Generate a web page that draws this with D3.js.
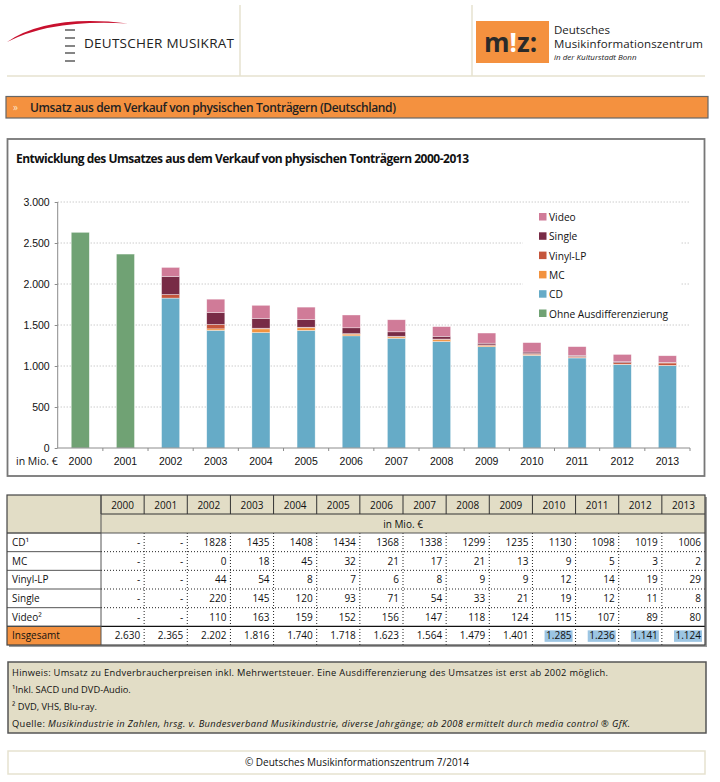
<!DOCTYPE html>
<html lang="de">
    <head>
        <meta charset="UTF-8" />
        <title>Umsatz physische Tonträger</title>
        <script src="https://cdnjs.cloudflare.com/ajax/libs/d3/7.9.0/d3.min.js"></script>
        <style>
            body {
                margin: 0;
                background: #fff;
            }
            svg {
                font-family: "Open Sans", "Noto Sans", sans-serif;
            }
            .grid line {
                stroke: #b5b5b5;
                stroke-dasharray: 1, 2;
            }
            .axis path,
            .axis line {
                stroke: #8c8c8c;
            }
            .axis text {
                font-size: 10.5px;
                fill: #111;
            }
            .cell {
                font-size: 10px;
                fill: #111;
            }
        </style>
    </head>
    <body>
        <svg width="720" height="782"></svg>
        <script>
            // Werte aus der Tabelle (in Mio. €)
            const years = ["2000", "2001", "2002", "2003", "2004", "2005", "2006", "2007", "2008", "2009", "2010", "2011", "2012", "2013"];
            const ohne = [2630, 2365, null, null, null, null, null, null, null, null, null, null, null, null];
            const cd = [null, null, 1828, 1435, 1408, 1434, 1368, 1338, 1299, 1235, 1130, 1098, 1019, 1006];
            const mc = [null, null, 0, 18, 45, 32, 21, 17, 21, 13, 9, 5, 3, 2];
            const vinyl = [null, null, 44, 54, 8, 7, 6, 8, 9, 9, 12, 14, 19, 29];
            const single = [null, null, 220, 145, 120, 93, 71, 54, 33, 21, 19, 12, 11, 8];
            const video = [null, null, 110, 163, 159, 152, 156, 147, 118, 124, 115, 107, 89, 80];
            const total = [2630, 2365, 2202, 1816, 1740, 1718, 1623, 1564, 1479, 1401, 1285, 1236, 1141, 1124];
            const yTicks = [0, 500, 1000, 1500, 2000, 2500, 3000];

            const series = [
                { key: "ohne", name: "Ohne Ausdifferenzierung", values: ohne, color: "#70a274" },
                { key: "cd", name: "CD", values: cd, color: "#66abc7" },
                { key: "mc", name: "MC", values: mc, color: "#f2923e" },
                { key: "vinyl", name: "Vinyl-LP", values: vinyl, color: "#c5553b" },
                { key: "single", name: "Single", values: single, color: "#782b46" },
                { key: "video", name: "Video", values: video, color: "#d07b98" },
            ];
            const tableRows = [
                { label: "CD¹", values: cd },
                { label: "MC", values: mc },
                { label: "Vinyl-LP", values: vinyl },
                { label: "Single", values: single },
                { label: "Video²", values: video },
            ];

            const beige = "#e2ddc6";
            const orange = "#f4913f";
            const de = d3.formatLocale({ decimal: ",", thousands: ".", grouping: [3], currency: ["", " €"] });
            const fmt = de.format(",d");

            const svg = d3.select("svg");

            // ---------- Kopfbereich ----------
            const head = svg.append("g");
            head.append("line").attr("x1", 7).attr("x2", 705).attr("y1", 76).attr("y2", 76).attr("stroke", "#e6e2cf").attr("stroke-width", 1.5);
            [240, 472].forEach((x) => head.append("line").attr("x1", x).attr("x2", x).attr("y1", 5).attr("y2", 76).attr("stroke", "#e6e2cf").attr("stroke-width", 1.5));

            // Musikrat-Logo
            head.append("path")
                .attr("d", "M7,42 Q48,14 128,23.5 Q52,19 7,42 Z")
                .attr("fill", "#c8102e");
            [30, 38, 46, 53, 61].forEach((y) =>
                head.append("line").attr("x1", 65).attr("x2", 75).attr("y1", y).attr("y2", y).attr("stroke", "#333").attr("stroke-width", 1.2)
            );
            head.append("text").attr("x", 84).attr("y", 47.5).attr("font-size", 13.5).attr("fill", "#222").attr("textLength", 150).text("DEUTSCHER MUSIKRAT");

            // miz-Logo
            head.append("rect").attr("x", 476).attr("y", 21).attr("width", 73).attr("height", 42).attr("fill", orange);
            const miz = head.append("text").attr("x", 484).attr("y", 52).attr("font-size", 26).attr("font-weight", 700).attr("fill", "#2a2a2a");
            miz.append("tspan").text("m");
            miz.append("tspan").attr("fill", "#fff").text("!");
            miz.append("tspan").text("z:");
            head.append("text").attr("x", 554).attr("y", 34).attr("font-size", 11.5).attr("fill", "#222").text("Deutsches");
            head.append("text").attr("x", 554).attr("y", 47.5).attr("font-size", 11.5).attr("fill", "#222").attr("textLength", 149).text("Musikinformationszentrum");
            head.append("text").attr("x", 554).attr("y", 59.5).attr("font-size", 8).attr("font-style", "italic").attr("fill", "#222").text("in der Kulturstadt Bonn");

            // ---------- Titelbalken ----------
            svg.append("rect").attr("x", 6).attr("y", 96.5).attr("width", 702).attr("height", 21.5).attr("fill", orange).attr("stroke", "#666").attr("stroke-width", 1.2);
            svg.append("text").attr("x", 13).attr("y", 111).attr("font-size", 10).attr("fill", "#fde3c8").text("»");
            svg.append("text").attr("x", 30).attr("y", 111.5).attr("font-size", 12).attr("font-weight", 600).attr("fill", "#222").attr("textLength", 366).text("Umsatz aus dem Verkauf von physischen Tonträgern (Deutschland)");

            // ---------- Diagrammrahmen ----------
            svg.append("rect").attr("x", 7.5).attr("y", 139).attr("width", 697).attr("height", 337).attr("fill", "#fff").attr("stroke", "#777").attr("stroke-width", 1.8);
            svg.append("text").attr("x", 16).attr("y", 163).attr("font-size", 12).attr("font-weight", 700).attr("fill", "#111").attr("textLength", 453).text("Entwicklung des Umsatzes aus dem Verkauf von physischen Tonträgern 2000-2013");

            const plot = { left: 57.7, right: 690, top: 202, bottom: 448 };
            const x = d3.scaleBand().domain(years).range([plot.left, plot.right]).paddingInner(0.6).paddingOuter(0.3);
            const y = d3.scaleLinear().domain([0, 3000]).range([plot.bottom, plot.top]);

            svg.append("g")
                .attr("class", "grid")
                .selectAll("line")
                .data(yTicks.filter((d) => d > 0))
                .join("line")
                .attr("x1", plot.left)
                .attr("x2", plot.right)
                .attr("y1", (d) => y(d))
                .attr("y2", (d) => y(d));

            // gestapelte Säulen
            const rows = years.map((yr, i) => {
                const o = { year: yr };
                series.forEach((s) => (o[s.key] = s.values[i] || 0));
                return o;
            });
            const stack = d3.stack().keys(series.map((s) => s.key))(rows);
            svg.append("g")
                .selectAll("g")
                .data(stack)
                .join("g")
                .attr("fill", (d, i) => series[i].color)
                .selectAll("rect")
                .data((d) => d.filter((p) => p[1] - p[0] > 0))
                .join("rect")
                .attr("x", (d) => x(d.data.year))
                .attr("width", x.bandwidth())
                .attr("y", (d) => y(d[1]))
                .attr("height", (d) => y(d[0]) - y(d[1]))
                .attr("stroke", "rgba(255,255,255,0.6)")
                .attr("stroke-width", 0.6);

            // Achsen
            const yAxis = svg.append("g")
                .attr("class", "axis")
                .attr("transform", `translate(${plot.left},0)`)
                .call(d3.axisLeft(y).tickValues(yTicks).tickFormat(fmt).tickSize(3).tickPadding(5));
            yAxis.select(".domain").attr("d", `M0,${plot.top}V${plot.bottom}`);

            const xAxis = svg.append("g")
                .attr("class", "axis")
                .attr("transform", `translate(0,${plot.bottom})`)
                .call(d3.axisBottom(x).tickSize(0).tickPadding(10));
            xAxis.select(".domain").attr("d", `M${plot.left},0H${plot.right}`);
            xAxis.selectAll(".sep")
                .data(years.slice(1).concat(["end"]))
                .join("line")
                .attr("class", "sep")
                .attr("x1", (d, i) => plot.left + (i + 1) * x.step())
                .attr("x2", (d, i) => plot.left + (i + 1) * x.step())
                .attr("y1", 0)
                .attr("y2", 3);
            svg.append("text").attr("x", 16).attr("y", 465).attr("font-size", 10.5).attr("fill", "#111").text("in Mio. €");

            // Legende
            const legend = svg.append("g");
            legend.append("rect").attr("x", 523).attr("y", 206).attr("width", 158).attr("height", 118).attr("fill", "#fff");
            const leg = series.slice().reverse();
            legend.selectAll("g")
                .data(leg)
                .join("g")
                .attr("transform", (d, i) => `translate(539,${213 + i * 19.3})`)
                .call((g) => g.append("rect").attr("width", 7.5).attr("height", 7.5).attr("fill", (d) => d.color))
                .call((g) =>
                    g.append("text")
                        .attr("x", 10)
                        .attr("y", 8)
                        .attr("font-size", 10.2)
                        .attr("fill", "#111")
                        .text((d) => d.name)
                );

            // ---------- Tabelle ----------
            const tb = { left: 7, labelW: 94, top: 495, headH: 19, unitH: 19, rowH: 18.67 };
            const colX = d3.scaleBand().domain(years).range([tb.left + tb.labelW, 705]);
            const tableRight = 705;
            const bodyTop = tb.top + tb.headH + tb.unitH;
            const tableBottom = bodyTop + 6 * tb.rowH;
            const t = svg.append("g");

            // Schatten
            t.append("rect").attr("x", tb.left + 2).attr("y", tb.top + 2).attr("width", tableRight - tb.left).attr("height", tableBottom - tb.top).attr("fill", "#9a9a9a");
            t.append("rect").attr("x", tb.left).attr("y", tb.top).attr("width", tableRight - tb.left).attr("height", tableBottom - tb.top).attr("fill", "#fff");
            t.append("rect").attr("x", tb.left).attr("y", tb.top).attr("width", tableRight - tb.left).attr("height", tb.headH + tb.unitH).attr("fill", beige);
            t.append("rect").attr("x", tb.left).attr("y", tableBottom - tb.rowH).attr("width", tb.labelW).attr("height", tb.rowH).attr("fill", orange);

            // markierte Summen 2010-2013
            t.selectAll(".hl")
                .data(years.slice(10))
                .join("rect")
                .attr("class", "hl")
                .attr("x", (d) => colX(d) + colX.bandwidth() - 31)
                .attr("y", tableBottom - tb.rowH + 4)
                .attr("width", 28)
                .attr("height", 11.5)
                .attr("fill", "#9cc5e3");

            // Kopfzeile mit Jahren
            t.selectAll(".yr")
                .data(years)
                .join("text")
                .attr("class", "cell")
                .attr("x", (d) => colX(d) + colX.bandwidth() / 2)
                .attr("y", tb.top + 13.5)
                .attr("text-anchor", "middle")
                .attr("font-size", 10.5)
                .text((d) => d);
            t.selectAll(".yrsep")
                .data(years)
                .join("line")
                .attr("x1", (d) => colX(d))
                .attr("x2", (d) => colX(d))
                .attr("y1", tb.top)
                .attr("y2", tb.top + tb.headH)
                .attr("stroke", "#333");
            t.append("line").attr("x1", tb.left + tb.labelW).attr("x2", tableRight).attr("y1", tb.top + tb.headH).attr("y2", tb.top + tb.headH).attr("stroke", "#333");
            t.append("text").attr("class", "cell").attr("x", (colX("2006") + colX("2007") + colX.bandwidth()) / 2).attr("y", tb.top + tb.headH + 13.5).attr("text-anchor", "middle").attr("font-size", 10.5).text("in Mio. €");

            // gepunktete Trennlinien im Datenbereich
            t.selectAll(".vdot")
                .data(years.slice(1))
                .join("line")
                .attr("x1", (d) => colX(d))
                .attr("x2", (d) => colX(d))
                .attr("y1", bodyTop)
                .attr("y2", tableBottom)
                .attr("stroke", "#222")
                .attr("stroke-dasharray", "1,2");
            t.selectAll(".hdot")
                .data(d3.range(1, 5))
                .join("line")
                .attr("x1", tb.left + tb.labelW)
                .attr("x2", tableRight)
                .attr("y1", (d) => bodyTop + d * tb.rowH)
                .attr("y2", (d) => bodyTop + d * tb.rowH)
                .attr("stroke", "#222")
                .attr("stroke-dasharray", "1,2");
            t.append("line").attr("x1", tb.left).attr("x2", tableRight).attr("y1", bodyTop).attr("y2", bodyTop).attr("stroke", "#555");
            t.append("line").attr("x1", tb.left).attr("x2", tableRight).attr("y1", tableBottom - tb.rowH).attr("y2", tableBottom - tb.rowH).attr("stroke", "#111").attr("stroke-width", 1.2);

            // Beschriftungsspalte
            d3.range(0, 6).forEach((i) =>
                t.append("line").attr("x1", tb.left).attr("x2", tb.left + tb.labelW).attr("y1", bodyTop + i * tb.rowH).attr("y2", bodyTop + i * tb.rowH).attr("stroke", "#555")
            );
            t.append("line").attr("x1", tb.left + tb.labelW).attr("x2", tb.left + tb.labelW).attr("y1", tb.top).attr("y2", tableBottom).attr("stroke", "#555");

            const allRows = tableRows.concat([{ label: "Insgesamt", values: total, isTotal: true }]);
            const rowG = t.selectAll(".row")
                .data(allRows)
                .join("g")
                .attr("transform", (d, i) => `translate(0,${bodyTop + i * tb.rowH})`);
            rowG.append("text")
                .attr("class", "cell")
                .attr("x", tb.left + 5)
                .attr("y", 13)
                .attr("font-size", 10.5)
                .text((d) => d.label);
            rowG.selectAll(".v")
                .data((d) => d.values.map((v, j) => ({ v, year: years[j], isTotal: d.isTotal })))
                .join("text")
                .attr("class", "cell")
                .attr("x", (d) => colX(d.year) + colX.bandwidth() - 4)
                .attr("y", 13)
                .attr("text-anchor", "end")
                .text((d) => (d.v == null ? "-" : d.isTotal ? fmt(d.v) : String(d.v)));

            t.append("rect").attr("x", tb.left).attr("y", tb.top).attr("width", tableRight - tb.left).attr("height", tableBottom - tb.top).attr("fill", "none").attr("stroke", "#444").attr("stroke-width", 1.2);

            // ---------- Hinweise ----------
            svg.append("rect").attr("x", 8).attr("y", 662).attr("width", 698).attr("height", 71).attr("fill", beige).attr("stroke", "#555").attr("stroke-width", 1.5);
            const notes = [
                "Hinweis: Umsatz zu Endverbraucherpreisen inkl. Mehrwertsteuer. Eine Ausdifferenzierung des Umsatzes ist erst ab 2002 möglich.",
                "¹Inkl. SACD und DVD-Audio.",
                "² DVD, VHS, Blu-ray.",
            ];
            svg.selectAll(".note")
                .data(notes)
                .join("text")
                .attr("x", 12)
                .attr("y", (d, i) => 676 + i * 17)
                .attr("font-size", 9.3)
                .attr("fill", "#111")
                .attr("textLength", (d, i) => (i === 0 ? 596 : null))
                .text((d) => d);
            const q = svg.append("text").attr("x", 12).attr("y", 727).attr("font-size", 9.3).attr("fill", "#111").attr("textLength", 618);
            q.append("tspan").text("Quelle: ");
            q.append("tspan").attr("font-style", "italic").text("Musikindustrie in Zahlen, hrsg. v. Bundesverband Musikindustrie, diverse Jahrgänge; ab 2008 ermittelt durch media control ® GfK.");

            // ---------- Fußzeile ----------
            svg.append("rect").attr("x", 8).attr("y", 751).attr("width", 697).attr("height", 23).attr("fill", "#fff").attr("stroke", "#e6e2cf").attr("stroke-width", 1.5);
            svg.append("text").attr("x", 357).attr("y", 766).attr("text-anchor", "middle").attr("font-size", 10).attr("fill", "#111").text("© Deutsches Musikinformationszentrum 7/2014");
        </script>
    </body>
</html>
